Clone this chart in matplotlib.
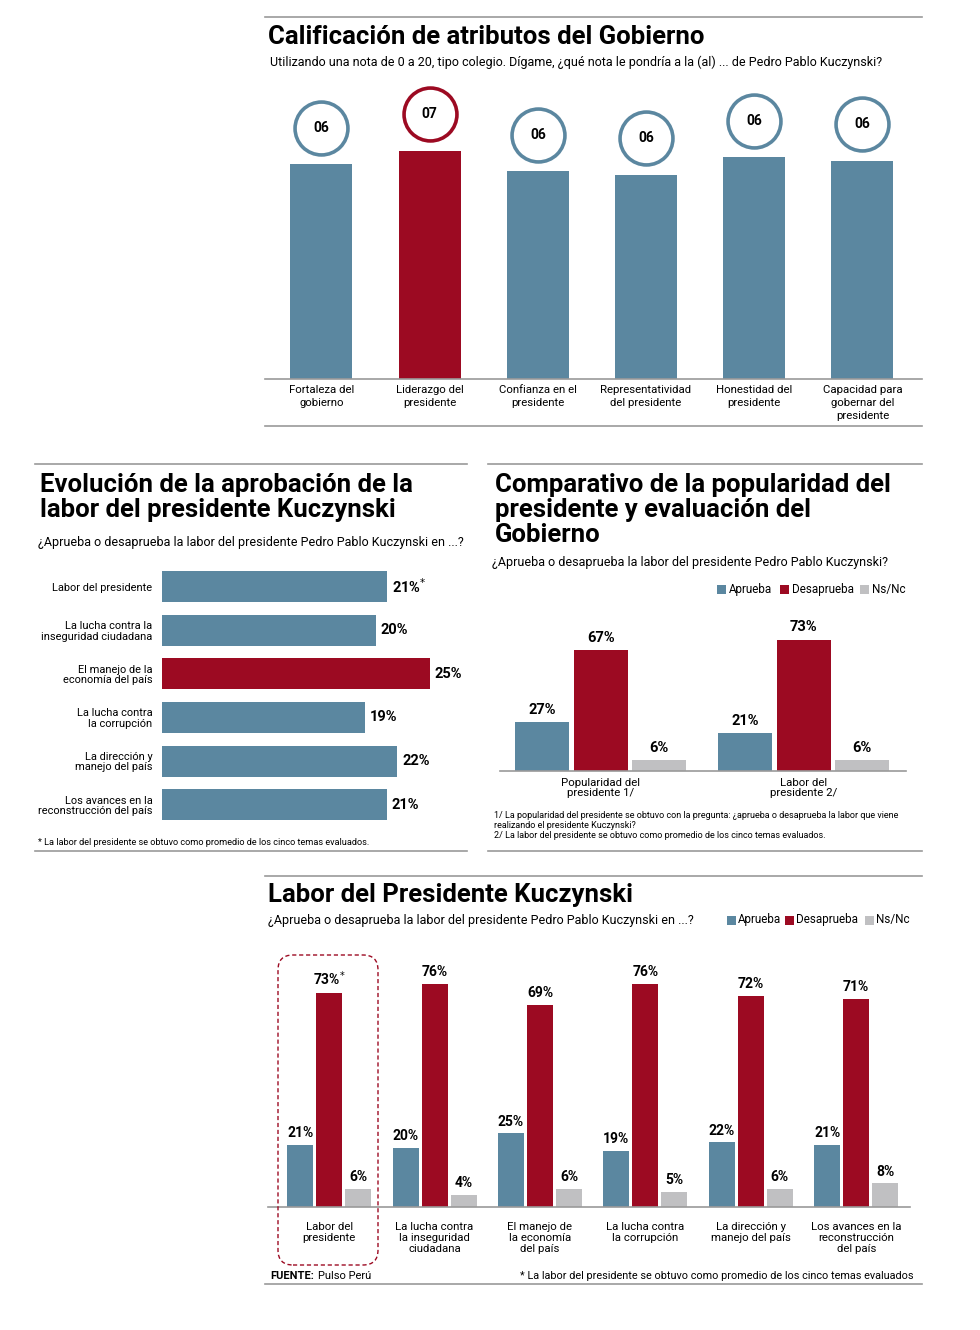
import matplotlib
matplotlib.use('Agg')
import matplotlib.pyplot as plt
from matplotlib.lines import Line2D
from matplotlib.patches import FancyBboxPatch, Rectangle

# Colores del grafico
AZUL = '#5b87a0'
ROJO = '#9c0a22'
GRIS = '#c0c0c2'
LINEA = '#9a9a9a'

FUENTE_TIT = ['Roboto', 'DejaVu Sans']
FUENTE_NUM = ['Roboto', 'DejaVu Sans']
FUENTE_TXT = ['Roboto', 'DejaVu Sans']

# Datos: calificacion de atributos
atributos = ['Fortaleza del\ngobierno', 'Liderazgo del\npresidente', 'Confianza en el\npresidente',
             'Representatividad\ndel presidente', 'Honestidad del\npresidente',
             'Capacidad para\ngobernar del\npresidente']
notas = [6.13, 6.52, 5.93, 5.84, 6.33, 6.24]

# Datos: evolucion de la aprobacion
temas_evol = ['Labor del presidente', 'La lucha contra la\ninseguridad ciudadana',
              'El manejo de la\neconomía del país', 'La lucha contra\nla corrupción',
              'La dirección y\nmanejo del país', 'Los avances en la\nreconstrucción del país']
aprobacion_evol = [21, 20, 25, 19, 22, 21]

# Datos: comparativo popularidad
grupos_comp = ['Popularidad del\npresidente 1/', 'Labor del\npresidente 2/']
comp_aprueba = [27, 21]
comp_desaprueba = [67, 73]
comp_nsnc = [6, 6]

# Datos: labor del presidente
temas_labor = ['Labor del\npresidente', 'La lucha contra\nla inseguridad\nciudadana',
               'El manejo de\nla economía\ndel país', 'La lucha contra\nla corrupción',
               'La dirección y\nmanejo del país', 'Los avances en la\nreconstrucción\ndel país']
labor_aprueba = [21, 20, 25, 19, 22, 21]
labor_desaprueba = [73, 76, 69, 76, 72, 71]
labor_nsnc = [6, 4, 6, 5, 6, 8]

W, H = 980, 1330
fig = plt.figure(figsize=(W / 100, H / 100), dpi=100)
fig.patch.set_facecolor('white')


def caja(l, t, r, b):
    return [l / W, 1 - b / H, (r - l) / W, (b - t) / H]


def texto(x, y, s, size, bold=False, fam=None, **kw):
    fam = fam or FUENTE_TXT
    fig.text(x / W, 1 - y / H, s, fontsize=size, family=fam,
             fontweight='bold' if bold else 'normal', **kw)


def titulo(x, y, s, size=18.5):
    fig.text(x / W, 1 - y / H, s, fontsize=size, family=FUENTE_TIT,
             fontweight='bold', va='baseline', ha='left', color='black')


def regla(x0, x1, y, color=LINEA, lw=1.2):
    fig.add_artist(Line2D([x0 / W, x1 / W], [1 - y / H, 1 - y / H],
                          transform=fig.transFigure, color=color, lw=lw))


def cuadrito(x, y, color, lado=9):
    fig.add_artist(Rectangle((x / W, 1 - (y + lado / 2) / H), lado / W, lado / H,
                             transform=fig.transFigure, color=color, lw=0))


def limpiar(ax):
    for s in ['top', 'right', 'left']:
        ax.spines[s].set_visible(False)
    ax.spines['bottom'].set_color(LINEA)
    ax.spines['bottom'].set_linewidth(1.2)
    ax.set_yticks([])
    ax.tick_params(axis='x', length=0)
    ax.patch.set_alpha(0)


# ---------------- Grafico 1: Calificacion de atributos ----------------
regla(265, 922, 17)
titulo(268, 44, 'Calificación de atributos del Gobierno')
texto(270, 66, 'Utilizando una nota de 0 a 20, tipo colegio. Dígame, ¿qué nota le pondría a la (al) ... '
      'de Pedro Pablo Kuczynski?', 9.0, va='baseline')

ax1 = fig.add_axes(caja(265, 80, 922, 379))
x1 = list(range(len(notas)))
colores1 = [ROJO if n == max(notas) else AZUL for n in notas]
ax1.bar(x1, notas, width=0.573, color=colores1)
ax1.set_xlim(-0.52, 5.55)
ax1.set_ylim(0, (379 - 80) / 35)
limpiar(ax1)
ax1.set_xticks(x1)
ax1.set_xticklabels(atributos, family=FUENTE_TXT, fontsize=8.2, linespacing=1.4)
ax1.tick_params(axis='x', pad=4)
for i, n in enumerate(notas):
    ax1.scatter(i, n + 1.04, s=1450, facecolor='white', edgecolor=colores1[i], linewidth=2.6, zorder=3)
    ax1.text(i, n + 1.04, f'{round(n):02d}', ha='center', va='center', fontsize=10,
             family=FUENTE_NUM, fontweight='bold', zorder=4)
regla(265, 922, 426)

# ---------------- Grafico 2: Evolucion de la aprobacion ----------------
regla(35, 467, 464)
titulo(40, 492, 'Evolución de la aprobación de la')
titulo(40, 517, 'labor del presidente Kuczynski')
texto(38, 546, '¿Aprueba o desaprueba la labor del presidente Pedro Pablo Kuczynski en ...?', 9.0,
      va='baseline')

ax2 = fig.add_axes(caja(162, 560, 467, 830))
y2 = list(range(len(aprobacion_evol)))
colores2 = [ROJO if v == max(aprobacion_evol) else AZUL for v in aprobacion_evol]
ax2.barh(y2, aprobacion_evol, height=0.71, color=colores2)
ax2.set_xlim(0, (467 - 162) / 10.7)
ax2.set_ylim(5.58, -0.61)
for s in ax2.spines.values():
    s.set_visible(False)
ax2.set_xticks([])
ax2.set_yticks(y2)
ax2.set_yticklabels(temas_evol, family=FUENTE_TXT, fontsize=7.9, ha='right', linespacing=1.05)
ax2.tick_params(axis='y', length=0, pad=7)
ax2.patch.set_alpha(0)
for i, v in enumerate(aprobacion_evol):
    etiqueta = f'{v}%' + ('$^{*}$' if i == 0 else '')
    ax2.text(v + 0.45, i, etiqueta, va='center', ha='left', fontsize=10.5,
             family=FUENTE_NUM, fontweight='bold')
texto(38, 845, '* La labor del presidente se obtuvo como promedio de los cinco temas evaluados.', 6.6,
      va='baseline')
regla(35, 467, 851)

# ---------------- Grafico 3: Comparativo ----------------
regla(488, 922, 464)
titulo(495, 492, 'Comparativo de la popularidad del')
titulo(495, 517, 'presidente y evaluación del')
titulo(495, 542, 'Gobierno')
texto(492, 566, '¿Aprueba o desaprueba la labor del presidente Pedro Pablo Kuczynski?', 9.0,
      va='baseline')
cuadrito(717, 589, AZUL)
texto(729, 589, 'Aprueba', 8.4, va='center')
cuadrito(780, 589, ROJO)
texto(792, 589, 'Desaprueba', 8.4, va='center')
cuadrito(860, 589, GRIS)
texto(872, 589, 'Ns/Nc', 8.4, va='center')

ax3 = fig.add_axes(caja(500, 600, 906, 771))
x3 = list(range(len(grupos_comp)))
d3, w3 = 0.289, 0.266
for serie, color, off in [(comp_aprueba, AZUL, -d3), (comp_desaprueba, ROJO, 0), (comp_nsnc, GRIS, d3)]:
    xs = [x + off for x in x3]
    ax3.bar(xs, serie, width=w3, color=color)
    for xx, v in zip(xs, serie):
        ax3.text(xx, v + 3, f'{v}%', ha='center', va='bottom', fontsize=10.5,
                 family=FUENTE_NUM, fontweight='bold')
ax3.set_xlim(-0.496, 1.504)
ax3.set_ylim(0, 171 / 1.8)
limpiar(ax3)
ax3.set_xticks(x3)
ax3.set_xticklabels(grupos_comp, family=FUENTE_TXT, fontsize=8.2, linespacing=1.0)
ax3.tick_params(axis='x', pad=5)
texto(494, 816, '1/ La popularidad del presidente se obtuvo con la pregunta: ¿aprueba o desaprueba la labor que viene',
      6.5, va='center')
texto(494, 826, 'realizando el presidente Kuczynski?', 6.5, va='center')
texto(494, 835, '2/ La labor del presidente se obtuvo como promedio de los cinco temas evaluados.', 6.5,
      va='center')
regla(488, 922, 851)

# ---------------- Grafico 4: Labor del presidente ----------------
regla(265, 922, 876)
titulo(268, 902, 'Labor del Presidente Kuczynski')
texto(268, 924, '¿Aprueba o desaprueba la labor del presidente Pedro Pablo Kuczynski en ...?', 9.0,
      va='baseline')
cuadrito(727, 920, AZUL)
texto(738, 920, 'Aprueba', 8.4, va='center')
cuadrito(785, 920, ROJO)
texto(796, 920, 'Desaprueba', 8.4, va='center')
cuadrito(865, 920, GRIS)
texto(876, 920, 'Ns/Nc', 8.4, va='center')

ax4 = fig.add_axes(caja(268, 950, 910, 1206.7))
x4 = list(range(len(temas_labor)))
d4, w4 = 0.275, 0.247
for serie, color, off in [(labor_aprueba, AZUL, -d4), (labor_desaprueba, ROJO, 0), (labor_nsnc, GRIS, d4)]:
    xs = [x + off for x in x4]
    ax4.bar(xs, serie, width=w4, color=color)
    for k, (xx, v) in enumerate(zip(xs, serie)):
        etiqueta = f'{v}%' + ('$^{*}$' if (k == 0 and color == ROJO) else '')
        ax4.text(xx, v + 1.6, etiqueta, ha='center', va='bottom', fontsize=10,
                 family=FUENTE_NUM, fontweight='bold')
ax4.set_xlim(-0.58, 5.51)
ax4.set_ylim(0, 256.7 / 2.93)
limpiar(ax4)
ax4.set_xticks(x4)
ax4.set_xticklabels(temas_labor, family=FUENTE_TXT, fontsize=8.2, linespacing=1.1, va='top')
ax4.tick_params(axis='x', pad=11)

# recuadro punteado del primer grupo
fig.add_artist(FancyBboxPatch((278 / 100, (H - 1265) / 100), 1.0, 3.10,
                              boxstyle='round,pad=0,rounding_size=0.15',
                              transform=fig.dpi_scale_trans, fill=False,
                              edgecolor=ROJO, linestyle=(0, (3, 2)), lw=1.0))

fig.text(270 / W, 1 - 1276 / H, 'FUENTE:', fontsize=8, family=FUENTE_TXT, fontweight='bold',
         va='center', ha='left')
texto(318, 1276, 'Pulso Perú', 8, va='center')
texto(913, 1276, '* La labor del presidente se obtuvo como promedio de los cinco temas evaluados', 7.8,
      va='center', ha='right')
regla(265, 922, 1284)

fig.savefig('out.png', dpi=100, facecolor='white')
